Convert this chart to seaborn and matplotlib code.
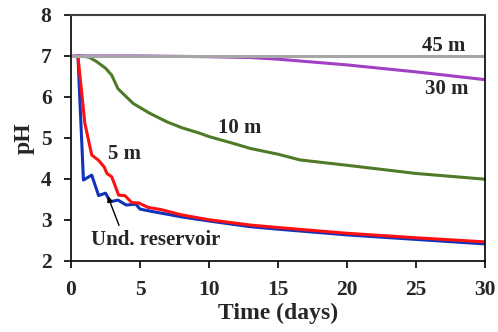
import pandas as pd
import seaborn as sns
import matplotlib.pyplot as plt

# Readings taken from the figure (time in days, pH)
t_und = [0.5, 0.9, 1.5, 2.0, 2.5, 2.85, 3.4, 4.0, 4.7, 5.0, 5.9, 6.9, 8, 10, 13, 15, 20, 25, 30]
ph_und = [7.0, 3.97, 4.09, 3.59, 3.65, 3.44, 3.48, 3.36, 3.38, 3.26, 3.2, 3.14, 3.07, 2.97, 2.83, 2.77, 2.63, 2.52, 2.41]

t_5m = [0.5, 1.0, 1.5, 2.0, 2.4, 2.6, 2.95, 3.45, 3.9, 4.4, 4.9, 5.6, 6.5, 8, 10, 13, 15, 20, 25, 30]
ph_5m = [7.0, 5.36, 4.58, 4.45, 4.29, 4.13, 4.05, 3.6, 3.59, 3.42, 3.41, 3.3, 3.25, 3.12, 3.0, 2.87, 2.81, 2.67, 2.56, 2.46]

t_10m = [0.65, 1.3, 1.86, 2.5, 2.95, 3.4, 4.5, 5.7, 6.95, 8, 9.35, 10, 11.8, 13, 15, 16.6, 20, 25, 30]
ph_10m = [7.0, 6.97, 6.86, 6.7, 6.53, 6.2, 5.84, 5.6, 5.39, 5.25, 5.11, 5.03, 4.86, 4.74, 4.6, 4.46, 4.33, 4.13, 3.99]

t_30m = [0, 5, 10, 13, 15, 20, 25, 30]
ph_30m = [7.0, 7.0, 6.98, 6.96, 6.92, 6.78, 6.61, 6.42]

t_45m = [0, 30]
ph_45m = [7.0, 7.0]

series = [("Und. reservoir", t_und, ph_und),
          ("5 m", t_5m, ph_5m),
          ("10 m", t_10m, ph_10m),
          ("30 m", t_30m, ph_30m),
          ("45 m", t_45m, ph_45m)]

df = pd.concat([pd.DataFrame({"Depth": name, "Time": t, "pH": p}) for name, t, p in series],
               ignore_index=True)

palette = {"Und. reservoir": "#1133BB", "5 m": "#FF1010", "10 m": "#4F7A28",
           "30 m": "#A040C4", "45 m": "#A6A6A6"}

sns.set_style("white")
plt.rcParams["font.family"] = ["Liberation Serif", "DejaVu Serif"]
plt.rcParams["font.weight"] = "bold"

fig = plt.figure(figsize=(4.98, 3.32), dpi=100)
ax = fig.add_axes([0.1426, 0.2147, 0.974 - 0.1426, 0.955 - 0.2147])

sns.lineplot(data=df, x="Time", y="pH", hue="Depth", hue_order=[s[0] for s in series],
             palette=palette, sort=False, estimator=None, linewidth=2.2, legend=False, ax=ax)

ax.set_xlim(0, 30)
ax.set_ylim(2, 8)
ax.set_xticks([0, 5, 10, 15, 20, 25, 30])
ax.set_yticks([2, 3, 4, 5, 6, 7, 8])
ax.tick_params(direction="out", length=5, width=1.2, labelsize=15.5, color="black",
               pad=9, bottom=True, left=True)
for lab in ax.get_xticklabels() + ax.get_yticklabels():
    lab.set_fontweight("bold")
ax.set_xlabel("Time (days)", fontsize=17, fontweight="bold", labelpad=2)
ax.set_ylabel("pH", fontsize=17, fontweight="bold", labelpad=4)

for side in ["left", "bottom", "right"]:
    ax.spines[side].set_color("black")
    ax.spines[side].set_linewidth(1.2)
ax.spines["top"].set_color("#404040")
ax.spines["top"].set_linewidth(1.5)

txt = dict(fontsize=15, fontweight="bold", ha="center", va="center")
ax.text(27.0, 7.25, "45 m", **txt)
ax.text(27.2, 6.2, "30 m", **txt)
ax.text(12.25, 5.25, "10 m", **txt)
ax.text(3.9, 4.61, "5 m", **txt)
ax.text(6.1, 2.5, "Und. reservoir", **txt)
ax.annotate("", xy=(2.59, 3.64), xytext=(3.55, 2.8),
            arrowprops=dict(arrowstyle="-|>", color="black", lw=1.0, mutation_scale=8))

fig.savefig("out.png", dpi=100)
